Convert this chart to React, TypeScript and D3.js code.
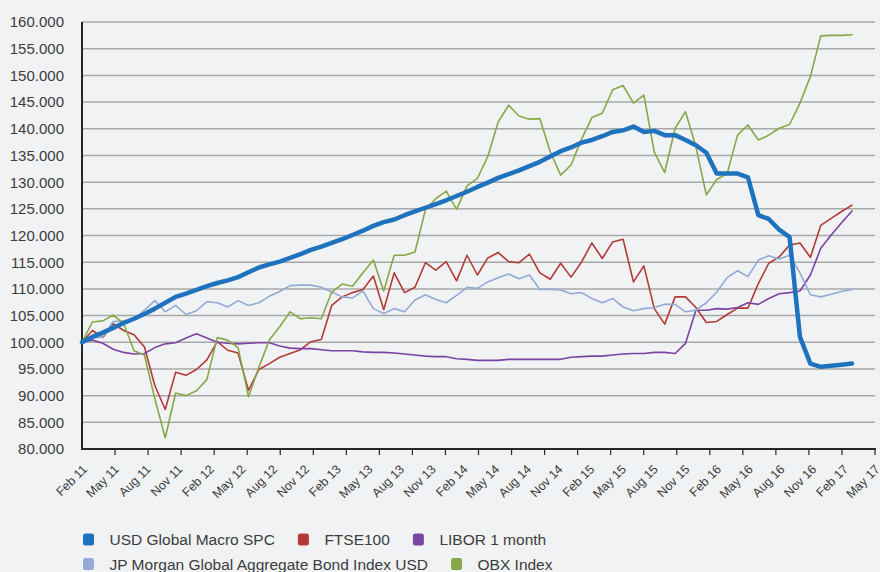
// @ts-nocheck
import React, { useRef, useEffect } from "react";
import * as d3 from "d3";

// quarterly labels shown under the axis
const xLabels = [
  "Feb 11", "May 11", "Aug 11", "Nov 11", "Feb 12", "May 12", "Aug 12", "Nov 12",
  "Feb 13", "May 13", "Aug 13", "Nov 13", "Feb 14", "May 14", "Aug 14", "Nov 14",
  "Feb 15", "May 15", "Aug 15", "Nov 15", "Feb 16", "May 16", "Aug 16", "Nov 16",
  "Feb 17", "May 17",
];

// monthly observations, Feb 2011 .. Apr 2017
const months = d3.timeMonth.range(new Date(2011, 1, 1), new Date(2017, 3, 2));

const usdMacro = [
  100, 101.0, 101.8, 102.7, 103.6, 104.4, 105.3, 106.3, 107.4, 108.5,
  109.1, 109.8, 110.5, 111.1, 111.6, 112.2, 113.1, 114.0, 114.6, 115.1,
  115.8, 116.5, 117.3, 117.9, 118.6, 119.3, 120.1, 120.9, 121.8, 122.5,
  123.0, 123.8, 124.5, 125.2, 125.9, 126.6, 127.4, 128.2, 129.1, 129.9,
  130.8, 131.5, 132.2, 133.0, 133.8, 134.8, 135.8, 136.5, 137.4, 137.9,
  138.6, 139.4, 139.7, 140.4, 139.4, 139.6, 138.8, 138.8, 137.9, 136.9,
  135.5, 131.6, 131.6, 131.6, 130.9, 123.8, 123.1, 121.1, 119.7, 101.0,
  96.0, 95.4, 95.6, 95.8, 96.0,
];

const ftse100 = [
  100, 102.2, 100.9, 103.5, 102.2, 101.4, 99.1, 91.9, 87.4, 94.4,
  93.8, 94.9, 96.7, 100.1, 98.5, 98.0, 91.0, 94.9, 96.0, 97.2,
  97.9, 98.6, 100.1, 100.5, 106.9, 108.5, 109.3, 109.9, 112.4, 106.1,
  113.0, 109.3, 110.3, 114.9, 113.5, 115.1, 111.5, 116.3, 112.6, 115.8,
  116.8, 115.1, 114.9, 116.5, 113.0, 111.8, 114.8, 112.2, 115.0, 118.6,
  115.7, 118.8, 119.3, 111.3, 114.3, 106.3, 103.4, 108.5, 108.5, 106.5,
  103.7, 103.9, 105.2, 106.4, 106.4, 111.0, 114.8, 116.0, 118.2, 118.6,
  115.9, 121.9, 123.2, 124.5, 125.7,
];

const libor1m = [
  100, 100.4, 99.8, 98.7, 98.1, 97.8, 97.9, 99.0, 99.7, 99.9,
  100.8, 101.6, 100.8, 100.0, 99.8, 99.7, 99.8, 99.9, 99.9, 99.3,
  98.9, 98.8, 98.8, 98.6, 98.4, 98.4, 98.4, 98.2, 98.1, 98.1,
  98.0, 97.8, 97.6, 97.4, 97.3, 97.3, 96.9, 96.8, 96.6, 96.6,
  96.6, 96.8, 96.8, 96.8, 96.8, 96.8, 96.8, 97.2, 97.3, 97.4,
  97.4, 97.6, 97.8, 97.9, 97.9, 98.1, 98.1, 97.9, 99.8, 106.0,
  106.0, 106.3, 106.2, 106.5, 107.4, 107.1, 108.2, 109.1, 109.3, 109.6,
  112.6, 117.6, 120.1, 122.4, 124.6,
];

const jpmBond = [
  100, 100.8, 101.0, 103.9, 104.0, 104.3, 106.0, 107.8, 105.7, 106.9,
  105.2, 105.9, 107.6, 107.4, 106.6, 107.8, 106.9, 107.4, 108.6, 109.5,
  110.6, 110.7, 110.7, 110.3, 109.4, 108.5, 108.3, 109.6, 106.3, 105.4,
  106.3, 105.7, 107.9, 108.9, 108.0, 107.4, 108.8, 110.3, 110.1, 111.3,
  112.1, 112.8, 111.9, 112.6, 109.9, 109.9, 109.8, 109.1, 109.3, 108.2,
  107.4, 108.2, 106.6, 105.9, 106.3, 106.5, 107.1, 107.1, 105.7, 106.0,
  107.4, 109.4, 112.1, 113.4, 112.3, 115.4, 116.2, 115.6, 116.3, 113.0,
  108.9, 108.5, 109.0, 109.5, 109.9,
];

const obx = [
  100, 103.8, 104.0, 105.1, 103.5, 98.4, 97.6, 89.4, 82.1, 90.5,
  90.0, 90.9, 93.0, 100.9, 100.4, 99.0, 89.8, 95.3, 100.4, 102.9,
  105.7, 104.4, 104.6, 104.4, 109.4, 110.9, 110.5, 113.0, 115.4, 109.6,
  116.3, 116.3, 116.9, 124.8, 126.9, 128.3, 124.9, 129.3, 130.7, 134.8,
  141.3, 144.4, 142.4, 141.8, 141.9, 135.7, 131.3, 133.2, 138.0, 142.1,
  142.9, 147.3, 148.1, 144.8, 146.3, 135.6, 131.8, 140.1, 143.2, 136.6,
  127.6, 130.5, 131.6, 138.8, 140.7, 137.9, 138.8, 140.1, 140.8, 144.8,
  149.8, 157.4, 157.5, 157.5, 157.6,
];

const series = [
  { name: "USD Global Macro SPC", values: usdMacro, color: "#1f72bd", width: 4.5, row: 0 },
  { name: "FTSE100", values: ftse100, color: "#b23a37", width: 1.6, row: 0 },
  { name: "LIBOR 1 month", values: libor1m, color: "#7945a2", width: 1.6, row: 0 },
  { name: "JP Morgan Global Aggregate Bond Index USD", values: jpmBond, color: "#91aad6", width: 1.6, row: 1 },
  { name: "OBX Index", values: obx, color: "#87a846", width: 1.6, row: 1 },
];

const W = 880;
const H = 572;
const FONT = "'Liberation Sans', Arial, Helvetica, sans-serif";

const App = () => {
  const svgRef = useRef(null);

  useEffect(() => {
    const svg = d3.select(svgRef.current);
    svg.selectAll("*").remove();

    const left = 82, right = 875, top = 22, bottom = 449;
    const dataRight = 852;

    const y = d3.scaleLinear().domain([80, 160]).range([bottom, top]);
    const x = d3.scalePoint().domain(months.map((d) => +d)).range([left, dataRight]);
    const tickPos = d3.scalePoint().domain(d3.range(25)).range([left, right]);
    const labelPos = d3.scalePoint().domain(xLabels).range([left + 6, right + 5.5]);

    svg.append("rect").attr("width", W).attr("height", H).attr("fill", "#f1f2f4");

    // horizontal gridlines
    const yTicks = d3.range(80, 160.1, 5);
    svg.append("g")
      .selectAll("line")
      .data(yTicks.filter((d) => d > 80))
      .join("line")
      .attr("x1", left).attr("x2", right)
      .attr("y1", (d) => y(d)).attr("y2", (d) => y(d))
      .attr("stroke", "#a8a8a8")
      .attr("stroke-width", 1.5);

    // y labels
    svg.append("g")
      .selectAll("text")
      .data(yTicks)
      .join("text")
      .attr("x", 64)
      .attr("y", (d) => y(d))
      .attr("dy", "0.36em")
      .attr("text-anchor", "end")
      .attr("font-family", FONT)
      .attr("font-size", 15)
      .attr("fill", "#3c3c3c")
      .text((d) => d3.format(".3f")(d));

    // axes
    svg.append("line")
      .attr("x1", left).attr("x2", left).attr("y1", top).attr("y2", bottom + 1)
      .attr("stroke", "#262626").attr("stroke-width", 2);
    svg.append("line")
      .attr("x1", left - 1).attr("x2", right + 1).attr("y1", bottom).attr("y2", bottom)
      .attr("stroke", "#262626").attr("stroke-width", 2);
    svg.append("g")
      .selectAll("line")
      .data(tickPos.domain().slice(1))
      .join("line")
      .attr("x1", (d) => tickPos(d)).attr("x2", (d) => tickPos(d))
      .attr("y1", bottom).attr("y2", bottom + 6)
      .attr("stroke", "#262626").attr("stroke-width", 1.2);

    // rotated x labels
    svg.append("g")
      .selectAll("text")
      .data(xLabels)
      .join("text")
      .attr("transform", (d) => `translate(${labelPos(d)},${bottom + 21}) rotate(-45)`)
      .attr("text-anchor", "end")
      .attr("font-family", FONT)
      .attr("font-size", 12.5)
      .attr("fill", "#3c3c3c")
      .text((d) => d);

    // lines (blue drawn last so it sits on top)
    const line = d3.line()
      .x((d, i) => x(+months[i]))
      .y((d) => y(d));
    const order = [1, 2, 3, 4, 0];
    svg.append("g")
      .selectAll("path")
      .data(order.map((i) => series[i]))
      .join("path")
      .attr("d", (s) => line(s.values))
      .attr("fill", "none")
      .attr("stroke", (s) => s.color)
      .attr("stroke-width", (s) => s.width)
      .attr("stroke-linejoin", "round")
      .attr("stroke-linecap", "round");

    // legend, flowed per row
    const rowY = [539.5, 564];
    [0, 1].forEach((row) => {
      let cx = 83;
      series.filter((s) => s.row === row).forEach((s) => {
        const g = svg.append("g").attr("transform", `translate(${cx},${rowY[row]})`);
        g.append("rect")
          .attr("x", 0).attr("y", -6).attr("width", 11).attr("height", 12).attr("rx", 2.5)
          .attr("fill", s.color);
        const t = g.append("text")
          .attr("x", 26.5)
          .attr("dy", "0.36em")
          .attr("font-family", FONT)
          .attr("font-size", 15.5)
          .attr("fill", "#3c3c3c")
          .text(s.name);
        cx += 26.5 + t.node().getComputedTextLength() + 23;
      });
    });
  }, []);

  return (
    <svg
      ref={svgRef}
      width={W}
      height={H}
      style={{ position: "absolute", left: 0, top: 0 }}
    ></svg>
  );
};

export default App;
